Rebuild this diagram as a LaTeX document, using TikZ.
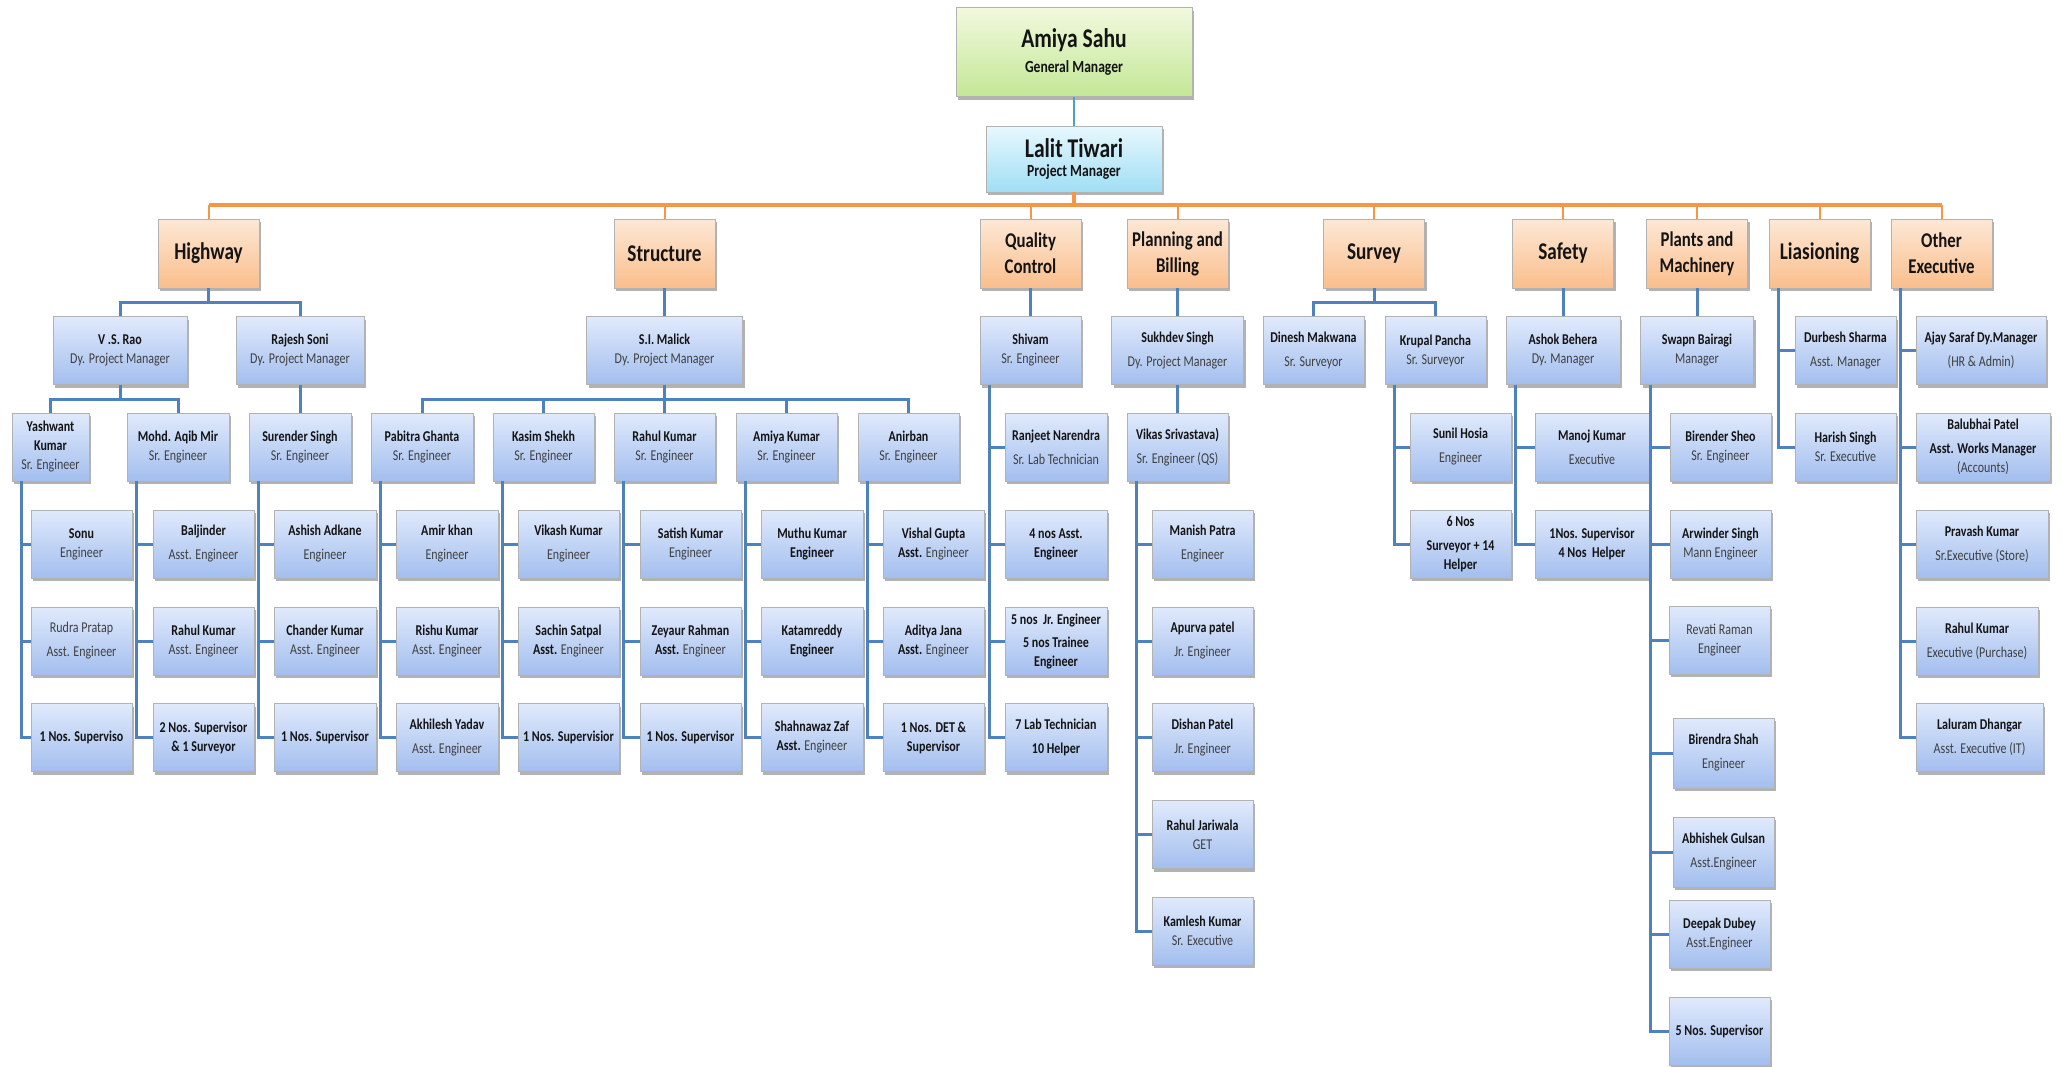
\documentclass[tikz,border=0pt]{standalone}
\usepackage{fontspec}
\setmainfont{Carlito}[FakeStretch=0.8]
\usepackage{xcolor}
\usetikzlibrary{shadows}
\definecolor{linkblue}{RGB}{79,129,189}
\definecolor{barorange}{RGB}{247,150,70}
\definecolor{topteal}{RGB}{75,160,195}
\definecolor{rolegray}{RGB}{64,64,64}
\definecolor{namegray}{RGB}{20,20,20}
\definecolor{stafftop}{RGB}{224,234,252}
\definecolor{staffbot}{RGB}{163,190,238}
\definecolor{depttop}{RGB}{253,232,214}
\definecolor{deptbot}{RGB}{250,190,140}
\definecolor{gmtop}{RGB}{241,249,222}
\definecolor{gmbot}{RGB}{196,231,150}
\definecolor{pmtop}{RGB}{232,248,253}
\definecolor{pmbot}{RGB}{160,222,245}
\newcommand{\who}[2]{\textbf{#1}\\{\color{rolegray}#2}}
\newcommand{\whogap}[2]{\textbf{#1}\\[5pt]{\color{rolegray}#2}}
\newcommand{\asst}[1]{\textbf{#1}\\\textbf{Asst.} {\color{rolegray}Engineer}}

\begin{document}
\begin{tikzpicture}[x=1pt, y=-1pt,
  box/.style={rectangle, draw=black!30, line width=0.8pt, align=center, inner sep=1pt,
    text=namegray, drop shadow={shadow xshift=2pt, shadow yshift=-3pt, opacity=0.3, fill=black}},
  staff/.style={box, minimum width=#1, minimum height=68pt, top color=stafftop, bottom color=staffbot,
    font=\fontsize{15}{19}\selectfont},
  staff/.default=101,
  staffb/.style={staff=#1, font=\fontsize{15}{19}\selectfont\bfseries},
  staffb/.default=101,
  dept/.style={box, minimum width=101pt, minimum height=69pt, top color=depttop, bottom color=deptbot,
    font=\fontsize{24}{28}\selectfont\bfseries},
  dept2/.style={dept, font=\fontsize{21}{26}\selectfont\bfseries},
  link/.style={draw=linkblue, line width=3pt},
  obar/.style={draw=barorange, line width=4pt},
  odrop/.style={draw=barorange, line width=2pt}]
  \useasboundingbox (0,0) rectangle (2062,1066);

  % top
  \node[box, minimum width=236pt, minimum height=89pt, top color=gmtop, bottom color=gmbot, font=\bfseries]
    (gm) at (1074,52) {{\fontsize{27}{32}\selectfont Amiya Sahu}\\[7pt]{\fontsize{17}{20}\selectfont General Manager}};
  \node[box, minimum width=176pt, minimum height=66pt, top color=pmtop, bottom color=pmbot, font=\bfseries]
    (pm) at (1074,159) {{\fontsize{27}{32}\selectfont Lalit Tiwari}\\[6pt]{\fontsize{17}{20}\selectfont Project Manager}};

  % departments
  \node[dept] (dHwy) at (208.5,253.5) {Highway};
  \node[dept] (dStr) at (664.5,253.5) {Structure};
  \node[dept2] (dQc) at (1030.5,253.5) {Quality\\Control};
  \node[dept2] (dPb) at (1177.5,253.5) {Planning and\\Billing};
  \node[dept] (dSur) at (1374,253.5) {Survey};
  \node[dept] (dSaf) at (1563,253.5) {Safety};
  \node[dept2] (dPlm) at (1697,253.5) {Plants and\\Machinery};
  \node[dept] (dLia) at (1819.5,253.5) {Liasioning};
  \node[dept2] (dOth) at (1941.5,253.5) {Other\\Executive};

  % second row
  \node[staff=134] (rao) at (120,350.5) {\who{V .S. Rao}{Dy. Project Manager}};
  \node[staff=128] (soni) at (300,350.5) {\who{Rajesh Soni}{Dy. Project Manager}};
  \node[staff=156] (malick) at (664.5,350.5) {\who{S.I. Malick}{Dy. Project Manager}};
  \node[staff] (shivam) at (1030.5,350.5) {\who{Shivam}{Sr. Engineer}};
  \node[staff=132] (sukhdev) at (1177.5,350.5) {\whogap{Sukhdev Singh}{Dy. Project Manager}};
  \node[staff] (dinesh) at (1313.5,350.5) {\whogap{Dinesh Makwana}{Sr. Surveyor}};
  \node[staff] (krupal) at (1435.5,350.5) {\who{Krupal Pancha}{Sr. Surveyor}};
  \node[staff=114] (ashok) at (1563,350.5) {\who{Ashok Behera}{Dy. Manager}};
  \node[staff=113] (swapn) at (1697,350.5) {\who{Swapn Bairagi}{Manager}};
  \node[staff] (durbesh) at (1845.5,350.5) {\whogap{Durbesh Sharma}{Asst. Manager}};
  \node[staff=130] (ajay) at (1981,350.5) {\whogap{Ajay Saraf Dy.Manager}{(HR \& Admin)}};

  % third row
  \node[staff=77] (yash) at (50.5,447) {\textbf{Yashwant}\\\textbf{Kumar}\\{\color{rolegray}Sr. Engineer}};
  \node[staff=102] (aqib) at (178,447) {\who{Mohd. Aqib Mir}{Sr. Engineer}};
  \node[staff=102] (surender) at (300,447) {\who{Surender Singh}{Sr. Engineer}};
  \node[staff=102] (pabitra) at (422,447) {\who{Pabitra Ghanta}{Sr. Engineer}};
  \node[staff] (kasim) at (543.5,447) {\who{Kasim Shekh}{Sr. Engineer}};
  \node[staff] (rahulS) at (664.5,447) {\who{Rahul Kumar}{Sr. Engineer}};
  \node[staff] (amiyaK) at (786.5,447) {\who{Amiya Kumar}{Sr. Engineer}};
  \node[staff] (anirban) at (908.5,447) {\who{Anirban}{Sr. Engineer}};
  \node[staff=102] (ranjeet) at (1056,447) {\whogap{Ranjeet Narendra}{Sr. Lab Technician}};
  \node[staff] (vikas) at (1177.5,447) {\whogap{Vikas Srivastava)}{Sr. Engineer (QS)}};
  \node[staff] (sunil) at (1460.5,447) {\whogap{Sunil Hosia}{Engineer}};
  \node[staff=114] (manoj) at (1592,447) {\whogap{Manoj Kumar}{Executive}};
  \node[staff] (birender) at (1720.5,447) {\who{Birender Sheo}{Sr. Engineer}};
  \node[staff] (harish) at (1845.5,447) {\who{Harish Singh}{Sr. Executive}};
  \node[staff=134] (balubhai) at (1983,447) {\textbf{Balubhai Patel}\\[5pt]\textbf{Asst. Works Manager}\\{\color{rolegray}(Accounts)}};

  % row a
  \node[staff] (sonu) at (81.5,544) {\who{Sonu}{Engineer}};
  \node[staff] (baljinder) at (203.5,544) {\whogap{Baljinder}{Asst. Engineer}};
  \node[staff=102] (ashish) at (325,544) {\whogap{Ashish Adkane}{Engineer}};
  \node[staff=102] (amir) at (447,544) {\whogap{Amir khan}{Engineer}};
  \node[staff] (vikash) at (568.5,544) {\whogap{Vikash Kumar}{Engineer}};
  \node[staff] (satish) at (690.5,544) {\who{Satish Kumar}{Engineer}};
  \node[staffb=102] (muthu) at (812,544) {Muthu Kumar\\Engineer};
  \node[staff] (vishal) at (933.5,544) {\asst{Vishal Gupta}};
  \node[staffb=102] (qa) at (1056,544) {4 nos Asst.\\Engineer};
  \node[staff] (manish) at (1202.5,544) {\whogap{Manish Patra}{Engineer}};
  \node[staffb] (sixnos) at (1460.5,544) {6 Nos\\[5pt]Surveyor + 14\\Helper};
  \node[staffb=114] (safsup) at (1592,544) {1Nos. Supervisor\\4 Nos~ Helper};
  \node[staff] (arwinder) at (1720.5,544) {\who{Arwinder Singh}{Mann Engineer}};
  \node[staff=132] (pravash) at (1982,544) {\whogap{Pravash Kumar}{Sr.Executive (Store)}};

  % row b
  \node[staff, text=rolegray] (rudra) at (81.5,641) {Rudra Pratap\\[5pt]Asst. Engineer};
  \node[staff] (rahulA) at (203.5,641) {\who{Rahul Kumar}{Asst. Engineer}};
  \node[staff=102] (chander) at (325,641) {\who{Chander Kumar}{Asst. Engineer}};
  \node[staff=102] (rishu) at (447,641) {\who{Rishu Kumar}{Asst. Engineer}};
  \node[staff] (sachin) at (568.5,641) {\asst{Sachin Satpal}};
  \node[staff] (zeyaur) at (690.5,641) {\asst{Zeyaur Rahman}};
  \node[staffb=102] (katam) at (812,641) {Katamreddy\\Engineer};
  \node[staff] (aditya) at (933.5,641) {\asst{Aditya Jana}};
  \node[staffb=102] (qb) at (1056,641) {5 nos~ Jr. Engineer\\[4pt]5 nos Trainee\\Engineer};
  \node[staff] (apurva) at (1202.5,641) {\whogap{Apurva patel}{Jr. Engineer}};
  \node[staff, text=rolegray] (revati) at (1719.5,640) {Revati Raman\\Engineer};
  \node[staff=122] (rahulP) at (1977,641) {\whogap{Rahul Kumar}{Executive (Purchase)}};

  % row c
  \node[staffb] (ysup) at (81.5,737.5) {1 Nos. Superviso};
  \node[staffb] (asup) at (203.5,737.5) {2 Nos. Supervisor\\\& 1 Surveyor};
  \node[staffb=102] (ssup) at (325,737.5) {1 Nos. Supervisor};
  \node[staff=102] (akhilesh) at (447,737.5) {\whogap{Akhilesh Yadav}{Asst. Engineer}};
  \node[staffb] (ksup) at (568.5,737.5) {1 Nos. Supervisior};
  \node[staffb] (rsup) at (690.5,737.5) {1 Nos. Supervisor};
  \node[staff=102] (shahnawaz) at (812,737.5) {\asst{Shahnawaz Zaf}};
  \node[staffb] (adet) at (933.5,737.5) {1 Nos. DET \&\\Supervisor};
  \node[staffb=102] (qc) at (1056,737.5) {7 Lab Technician\\[5pt]10 Helper};
  \node[staff] (dishan) at (1202.5,737.5) {\whogap{Dishan Patel}{Jr. Engineer}};
  \node[staff=127] (laluram) at (1979.5,737.5) {\whogap{Laluram Dhangar}{Asst. Executive (IT)}};

  % lower rows
  \node[staff] (jariwala) at (1202.5,834.5) {\who{Rahul Jariwala}{GET}};
  \node[staff] (kamlesh) at (1202.5,931) {\who{Kamlesh Kumar}{Sr. Executive}};
  \node[staff, minimum height=70pt] (birendra) at (1723.5,753) {\whogap{Birendra Shah}{Engineer}};
  \node[staff, minimum height=70pt] (abhishek) at (1723.5,852) {\whogap{Abhishek Gulsan}{Asst.Engineer}};
  \node[staff] (deepak) at (1719.5,934) {\who{Deepak Dubey}{Asst.Engineer}};
  \node[staffb] (fivesup) at (1719.5,1031) {5 Nos. Supervisor};

  % connectors
  \draw[draw=topteal, line width=2.5pt] (gm) -- (pm);
  \coordinate (obus) at ([yshift=-13pt]pm.south);
  \draw[obar] (pm.south) -- (obus);
  \draw[obar] (obus -| dHwy.north) -- (obus -| dOth.north);
  \foreach \d in {dHwy,dStr,dQc,dPb,dSur,dSaf,dPlm,dLia,dOth}
    \draw[odrop] (obus -| \d.north) -- (\d.north);

  \foreach \c in {rao,soni} \draw[link] (dHwy.south) -- ++(0,14) -| (\c.north);
  \foreach \c in {yash,aqib} \draw[link] (rao.south) -- ++(0,14.5) -| (\c.north);
  \foreach \c in {pabitra,kasim,rahulS,amiyaK,anirban} \draw[link] (malick.south) -- ++(0,14.5) -| (\c.north);
  \foreach \c in {dinesh,krupal} \draw[link] (dSur.south) -- ++(0,14) -| (\c.north);
  \draw[link] (soni) -- (surender);
  \draw[link] (dStr) -- (malick);
  \draw[link] (dQc) -- (shivam);
  \draw[link] (dPb) -- (sukhdev);
  \draw[link] (sukhdev) -- (vikas);
  \draw[link] (dSaf) -- (ashok);
  \draw[link] (dPlm) -- (swapn);

  \foreach \p/\kids in {yash/{sonu,rudra,ysup}, aqib/{baljinder,rahulA,asup}, surender/{ashish,chander,ssup},
      pabitra/{amir,rishu,akhilesh}, kasim/{vikash,sachin,ksup}, rahulS/{satish,zeyaur,rsup},
      amiyaK/{muthu,katam,shahnawaz}, anirban/{vishal,aditya,adet}, shivam/{ranjeet,qa,qb,qc},
      vikas/{manish,apurva,dishan,jariwala,kamlesh}, krupal/{sunil,sixnos}, ashok/{manoj,safsup},
      swapn/{birender,arwinder,revati,birendra,abhishek,deepak,fivesup},
      dLia/{durbesh,harish}, dOth/{ajay,balubhai,pravash,rahulP,laluram}}
    \foreach \c in \kids
      \draw[link] ([xshift=10pt]\p.south west) |- (\c.west);
\end{tikzpicture}
\end{document}
